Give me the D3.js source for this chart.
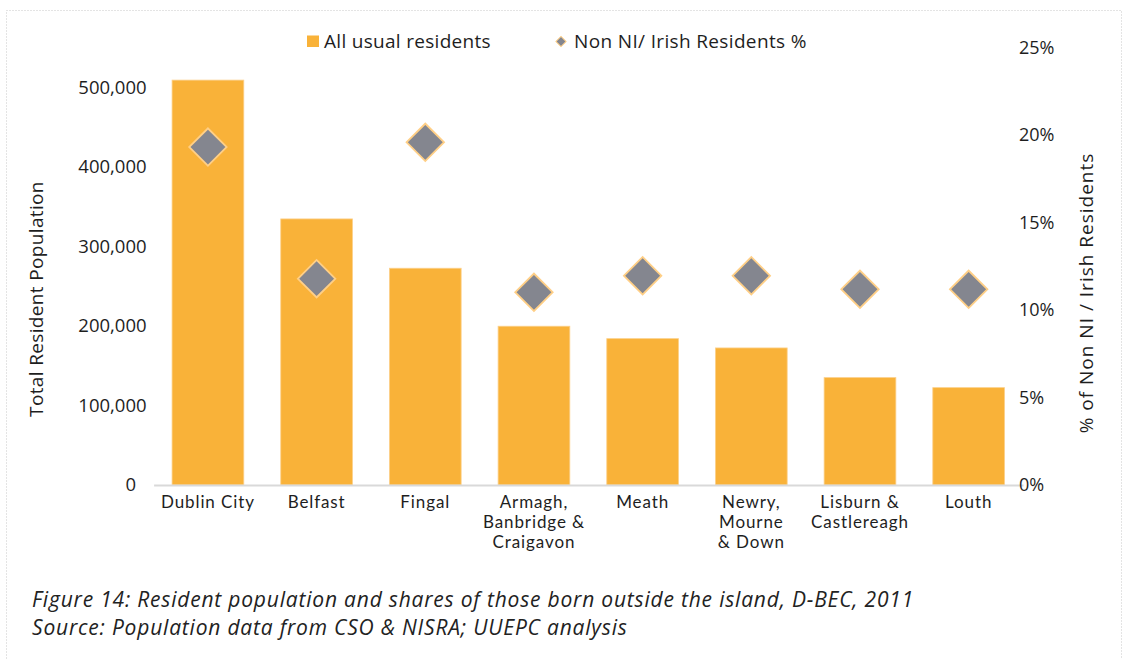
<!DOCTYPE html>
<html><head><meta charset="utf-8">
<script src="https://cdn.jsdelivr.net/npm/d3@7"></script>
<style>
html,body{margin:0;padding:0;background:#fff;}
svg{display:block;font-family:"Open Sans",sans-serif;}
</style></head>
<body><svg id="c" width="1125" height="659"></svg>
<script>
const categories = ["Dublin City","Belfast","Fingal","Armagh, Banbridge & Craigavon","Meath","Newry, Mourne & Down","Lisburn & Castlereagh","Louth"];
const categoryLines = [["Dublin City"],["Belfast"],["Fingal"],["Armagh,","Banbridge &","Craigavon"],["Meath"],["Newry,","Mourne","& Down"],["Lisburn &","Castlereagh"],["Louth"]];
const residents = [509000, 334500, 272500, 199600, 184000, 172300, 135000, 122400];
const nonIrishPct = [0.1931, 0.1179, 0.1958, 0.1101, 0.1196, 0.1196, 0.1118, 0.1118];
const leftTicks = [0, 100000, 200000, 300000, 400000, 500000];
const rightTicks = [0, 0.05, 0.10, 0.15, 0.20, 0.25];
const seriesNames = ["All usual residents", "Non NI/ Irish Residents %"];
const axisTitles = ["Total Resident Population", "% of Non NI / Irish Residents"];
const captionLines = ["Figure 14: Resident population and shares of those born outside the island, D-BEC, 2011",
                      "Source: Population data from CSO & NISRA; UUEPC analysis"];

const FONT = "'Open Sans', sans-serif";
const LABELFONT = "Lato, 'Open Sans', sans-serif";
const barColor = "#F9B239", barStroke = "#FCD08A";
const dColor = "#84868F", dStroke = "#FFCF86";
const textColor = "#1E1E1E";

const svg = d3.select("#c");

// border
svg.append("rect").attr("x",6.5).attr("y",10.5).attr("width",1115).attr("height",700)
  .attr("fill","none").attr("stroke","#C8C8C8").attr("stroke-width",1).attr("stroke-dasharray","1,2");

const x = d3.scaleBand().domain(categories).range([153.6, 1023]).paddingInner(0.34).paddingOuter(0.17);
const yL = d3.scaleLinear().domain([0, 550000]).range([485, 47.5]);
const yR = d3.scaleLinear().domain([0, 0.25]).range([485, 47.5]);

// bars
svg.append("g").selectAll("rect").data(categories).join("rect")
  .attr("x", d => x(d)).attr("width", x.bandwidth())
  .attr("y", (d,i) => yL(residents[i])).attr("height", (d,i) => yL(0) - yL(residents[i]))
  .attr("fill", barColor).attr("stroke", barStroke).attr("stroke-width", 0.8);

// x axis
const gx = svg.append("g").attr("transform","translate(0,485)")
  .call(d3.axisBottom(x).tickSize(0).tickFormat(""));
gx.attr("font-family", LABELFONT);
gx.select(".domain").attr("stroke","#D9D9D9").attr("stroke-width",2);
gx.selectAll(".tick").each(function(d,i){
  const tick = d3.select(this);
  categoryLines[i].forEach((l,j)=>{
    tick.append("text").attr("fill",textColor).attr("font-size",17)
      .attr("font-family",LABELFONT).attr("letter-spacing",0.9)
      .attr("text-anchor","middle").attr("x",0).attr("y",22.5 + j*20.4).text(l);
  });
});

// left axis
const fmt = d3.format(",");
const gl = svg.append("g").attr("transform","translate(153.6,0)")
  .call(d3.axisLeft(yL).tickValues(leftTicks).tickSize(0).tickPadding(7)
    .tickFormat(d => d === 0 ? "0\u2007" : fmt(d)));
gl.attr("font-family", FONT);
gl.select(".domain").remove();
gl.selectAll("text").attr("fill",textColor).attr("font-size",18.5);

// right axis
const gr = svg.append("g").attr("transform","translate(1023,0)")
  .call(d3.axisRight(yR).tickValues(rightTicks).tickSize(0).tickPadding(-4).tickFormat(d3.format(".0%")));
gr.attr("font-family", FONT);
gr.select(".domain").remove();
gr.selectAll("text").attr("fill",textColor).attr("font-size",18);

// diamonds
const diamond = d3.symbol().type(d3.symbolSquare).size(700);
svg.append("g").selectAll("path").data(categories).join("path")
  .attr("d", diamond)
  .attr("transform", (d,i) => `translate(${x(d)+x.bandwidth()/2},${yR(nonIrishPct[i])}) rotate(45)`)
  .attr("fill", dColor).attr("stroke", dStroke).attr("stroke-width", 1.8);

// axis titles
svg.append("text").attr("transform","translate(43,299) rotate(-90)").attr("text-anchor","middle")
  .attr("fill",textColor).attr("font-size",19).attr("letter-spacing",0.35).text(axisTitles[0]);
svg.append("text").attr("transform","translate(1093,293) rotate(-90)").attr("text-anchor","middle")
  .attr("fill",textColor).attr("font-size",19).attr("letter-spacing",1.0).text(axisTitles[1]);

// legend
const lg = svg.append("g");
lg.append("rect").attr("x",307).attr("y",35.5).attr("width",12).attr("height",11.5).attr("fill",barColor);
lg.append("text").attr("x",324).attr("y",48).attr("fill",textColor).attr("font-size",19)
  .attr("letter-spacing",0.3).text(seriesNames[0]);
lg.append("path").attr("d", d3.symbol().type(d3.symbolSquare).size(52)())
  .attr("transform","translate(561,41.5) rotate(45)").attr("fill",dColor).attr("stroke",dStroke).attr("stroke-width",1);
lg.append("text").attr("x",574).attr("y",48).attr("fill",textColor).attr("font-size",19)
  .attr("letter-spacing",0.35).text(seriesNames[1]);

// caption
captionLines.forEach((l,i)=>{
  svg.append("text").attr("x",32).attr("y",607 + i*28).attr("font-style","italic")
    .attr("fill","#222").attr("font-size",21).attr("letter-spacing",0.8).text(l);
});
</script></body></html>
